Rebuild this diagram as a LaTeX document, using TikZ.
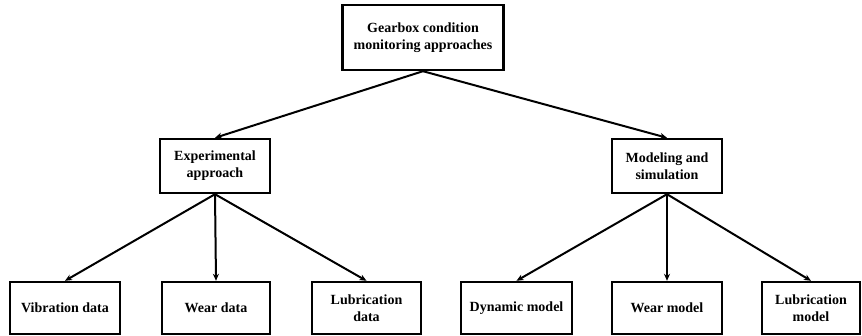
\documentclass[tikz,border=0pt]{standalone}
\usepackage{fontspec}
\setmainfont{Liberation Serif}
\usetikzlibrary{arrows.meta}

\tikzset{
	box/.style = {draw, line width = 2.4, align = center, inner sep = 2, font = \bfseries\fontsize{14}{17}\selectfont},
	link/.style = {line width = 2, -{Stealth[length = 7, width = 6]}}
}

\begin{document}
\begin{tikzpicture}[x = 1pt, y = -1pt]
		\useasboundingbox (0, 0) rectangle (862, 335);
		\clip (0, 0) rectangle (862, 335);
		% Boxes
		\node[box, minimum width = 161, minimum height = 65] (root) at (423, 37.5) {Gearbox condition\\monitoring approaches};
		\node[box, minimum width = 110, minimum height = 54] (exp) at (215, 166) {Experimental\\approach};
		\node[box, minimum width = 110, minimum height = 54] (sim) at (667, 166) {Modeling and\\simulation};
		\node[box, minimum width = 110, minimum height = 52] (vib) at (65, 308) {Vibration data};
		\node[box, minimum width = 108, minimum height = 52] (weard) at (216, 308) {Wear data};
		\node[box, minimum width = 109, minimum height = 52] (lubd) at (366.5, 308) {Lubrication\\data};
		\node[box, minimum width = 111, minimum height = 52] (dyn) at (516.5, 308) {Dynamic model};
		\node[box, minimum width = 110, minimum height = 52] (wearm) at (667, 308) {Wear model};
		\node[box, minimum width = 98, minimum height = 52] (lubm) at (811, 308) {Lubrication\\model};
		% Arrows
		\draw[link] (root.south) -- (exp.north);
		\draw[link] (root.south) -- (sim.north);
		\draw[link] (exp.south) -- (vib.north);
		\draw[link] (exp.south) -- (weard.north);
		\draw[link] (exp.south) -- (lubd.north);
		\draw[link] (sim.south) -- (dyn.north);
		\draw[link] (sim.south) -- (wearm.north);
		\draw[link] (sim.south) -- (lubm.north);
	\end{tikzpicture}
\end{document}
